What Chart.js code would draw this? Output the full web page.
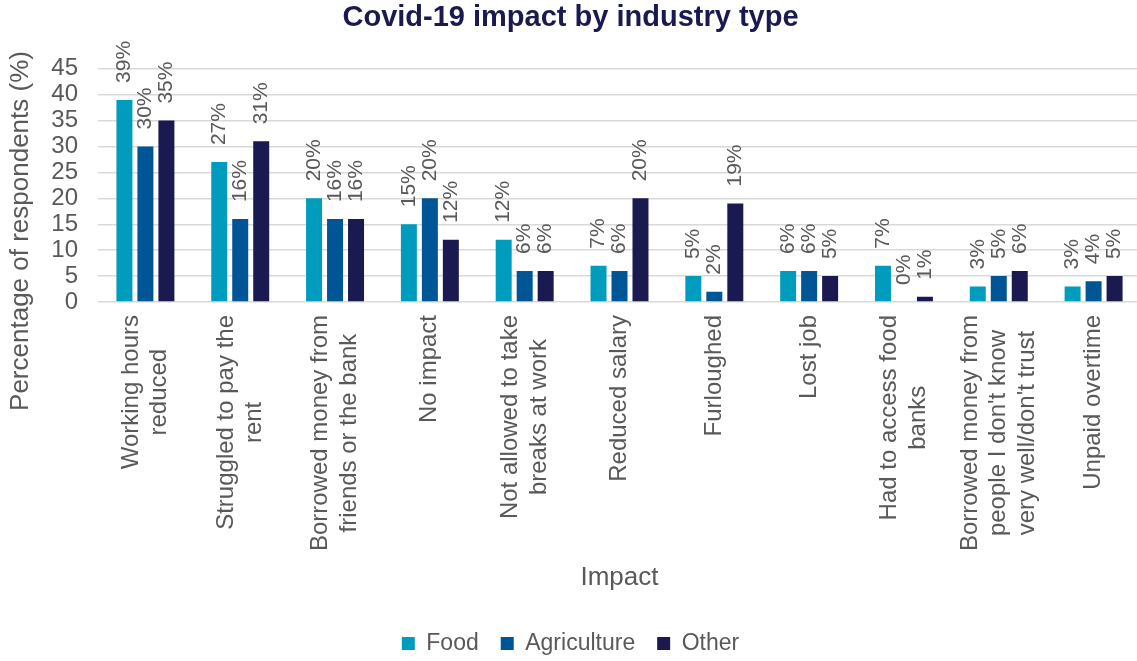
<!DOCTYPE html>
<html>
<head>
<meta charset="utf-8">
<title>Covid-19 impact by industry type</title>
<script src="https://cdn.jsdelivr.net/npm/chart.js@4.4.1/dist/chart.umd.min.js"></script>
<style>
  html, body { margin: 0; padding: 0; background: #fff; overflow: hidden; }
  #wrap { width: 1137px; height: 661px; overflow: hidden; }
</style>
</head>
<body>
<div id="wrap"><canvas id="impactChart" width="1150" height="665"></canvas></div>
<script>
// Impact categories, one array of lines per label
const impacts = [
  ['Working hours', 'reduced'],
  ['Struggled to pay the', 'rent'],
  ['Borrowed money from', 'friends or the bank'],
  ['No impact'],
  ['Not allowed to take', 'breaks at work'],
  ['Reduced salary'],
  ['Furloughed'],
  ['Lost job'],
  ['Had to access food', 'banks'],
  ['Borrowed money from', "people I don't know", "very well/don't trust"],
  ['Unpaid overtime']
];

// % of respondents per industry
const food        = [39, 27, 20, 15, 12, 7, 5, 6, 7, 3, 3];
const agriculture = [30, 16, 16, 20, 6, 6, 2, 6, 0, 5, 4];
const other       = [35, 31, 16, 12, 6, 20, 19, 5, 1, 6, 5];

const yTicks = [0, 5, 10, 15, 20, 25, 30, 35, 40, 45];

const FONT = "'Liberation Sans', Arial, sans-serif";
const TEXT_GREY = '#595959';

// value labels above bars, wrapped x labels and the y title
const textPlugin = {
  id: 'impactText',
  afterDatasetsDraw(chart) {
    const ctx = chart.ctx;
    ctx.save();
    ctx.font = `21px ${FONT}`;
    ctx.fillStyle = TEXT_GREY;
    ctx.textAlign = 'left';
    ctx.textBaseline = 'middle';
    chart.data.datasets.forEach((ds, di) => {
      chart.getDatasetMeta(di).data.forEach((bar, i) => {
        ctx.save();
        ctx.translate(bar.x, bar.y - 17);
        ctx.rotate(-Math.PI / 2);
        ctx.fillText(ds.data[i] + '%', 0, 0);
        ctx.restore();
      });
    });
    ctx.restore();
  },
  afterDraw(chart) {
    const ctx = chart.ctx;
    const xs = chart.scales.x;
    ctx.save();
    ctx.fillStyle = TEXT_GREY;
    ctx.textAlign = 'center';
    ctx.textBaseline = 'middle';

    // category labels: lines centred on each other, block starts under the axis
    ctx.font = `24px ${FONT}`;
    const lh = 28.5;
    impacts.forEach((lines, i) => {
      const x = xs.getPixelForValue(i);
      const w = Math.max(...lines.map(l => ctx.measureText(l).width));
      const yc = xs.top + 13 + w / 2;
      lines.forEach((line, j) => {
        ctx.save();
        ctx.translate(x + (j - (lines.length - 1) / 2) * lh, yc);
        ctx.rotate(-Math.PI / 2);
        ctx.fillText(line, 0, 0);
        ctx.restore();
      });
    });

    // y axis title
    ctx.font = `26px ${FONT}`;
    ctx.translate(21, 231);
    ctx.rotate(-Math.PI / 2);
    ctx.fillText('Percentage of respondents (%)', 0, 0);
    ctx.restore();
  }
};

new Chart(document.getElementById('impactChart'), {
  type: 'bar',
  data: {
    labels: impacts,
    datasets: [
      { label: 'Food', data: food, backgroundColor: '#009cbd' },
      { label: 'Agriculture', data: agriculture, backgroundColor: '#005596' },
      { label: 'Other', data: other, backgroundColor: '#1b1a50' }
    ]
  },
  options: {
    responsive: false,
    animation: false,
    devicePixelRatio: 1,
    layout: { padding: { left: 0, right: 9, top: 0, bottom: 0 } },
    datasets: { bar: { categoryPercentage: 0.664, barPercentage: 0.762, borderWidth: 0 } },
    plugins: {
      title: {
        display: true,
        text: 'Covid-19 impact by industry type',
        color: '#1b1a50',
        font: { family: FONT, size: 29, weight: 'bold' },
        padding: { top: 1, bottom: 33 }
      },
      legend: {
        position: 'bottom',
        labels: {
          font: { family: FONT, size: 23 },
          color: TEXT_GREY,
          boxWidth: 13,
          boxHeight: 13,
          padding: 22
        }
      },
      tooltip: { enabled: false }
    },
    scales: {
      x: {
        grid: { display: false },
        border: { display: false },
        ticks: { display: false },
        title: {
          display: true,
          text: 'Impact',
          color: TEXT_GREY,
          font: { family: FONT, size: 26 },
          padding: { top: 0, bottom: 17 }
        },
        afterFit: s => { s.height = 308; }
      },
      y: {
        min: 0,
        max: 45,
        afterBuildTicks: s => { s.ticks = yTicks.map(v => ({ value: v })); },
        ticks: { color: TEXT_GREY, font: { family: FONT, size: 24 }, padding: 20, autoSkip: false },
        grid: { color: '#d9d9d9', lineWidth: 1.5, drawTicks: false },
        border: { display: false },
        afterFit: s => { s.width = 98; }
      }
    }
  },
  plugins: [textPlugin]
});
</script>
</body>
</html>
